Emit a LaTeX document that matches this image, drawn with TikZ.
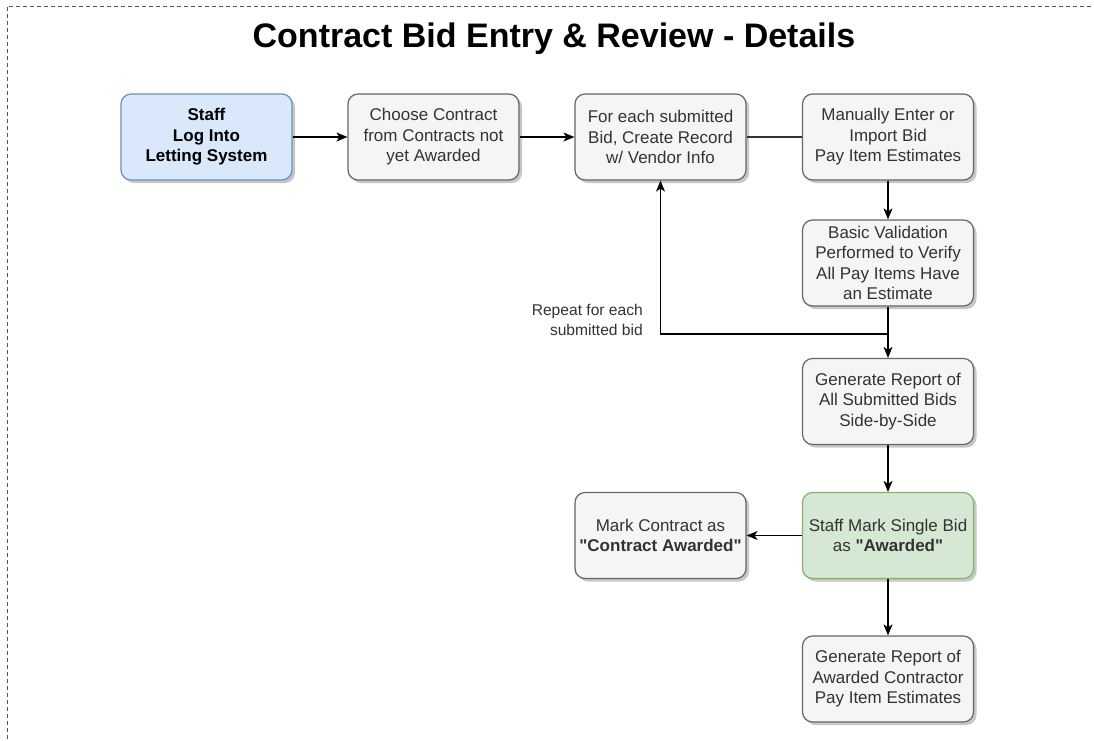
\documentclass[tikz,border=0pt]{standalone}
\usepackage{fontspec}
\setmainfont{Liberation Sans}
\newfontfamily\plainsans{Liberation Sans}
\usetikzlibrary{arrows.meta,shadows}
\definecolor{boxfill}{HTML}{F5F5F5}
\definecolor{boxdraw}{HTML}{666666}
\definecolor{boxtext}{HTML}{333333}
\definecolor{bluefill}{HTML}{DAE8FC}
\definecolor{bluedraw}{HTML}{6C8EBF}
\definecolor{greenfill}{HTML}{D5E8D4}
\definecolor{greendraw}{HTML}{82B366}
\definecolor{borderc}{HTML}{555555}
\tikzset{
  procbox/.style={draw=boxdraw, fill=boxfill, text=boxtext, line width=1.2pt,
    rounded corners=10pt, minimum width=171pt, minimum height=86pt,
    align=center, inner sep=2pt,
    font=\plainsans\fontsize{17}{20.5}\selectfont,
    drop shadow={shadow xshift=3pt, shadow yshift=-3pt, opacity=0.22, fill=black}},
  startbox/.style={procbox, draw=bluedraw, fill=bluefill, text=black},
  awardbox/.style={procbox, draw=greendraw, fill=greenfill},
  arr/.style={draw=black, line width=1.3pt, -{Stealth[length=11pt,width=9pt,inset=3pt]}},
  plainline/.style={draw=boxtext, line width=1.3pt},
  edgelabel/.style={font=\plainsans\fontsize{15.6}{19.3}\selectfont, text=boxtext, align=right, inner sep=2pt}
}
\begin{document}
\begin{tikzpicture}[x=1pt,y=-1pt]
\path[use as bounding box, fill=white] (0,0) rectangle (1094,740);
\clip (0,0) rectangle (1094,740);
\draw[borderc, line width=1pt, dash pattern=on 4pt off 3pt] (7,760) -- (7,6) -- (1110,6);

\node[anchor=base, font=\plainsans\fontsize{34}{40}\selectfont\bfseries] (title) at (554,47) {Contract Bid Entry \& Review - Details};

\node[startbox] (staff) at (206.5,137) {\textbf{Staff}\\\textbf{Log Into}\\\textbf{Letting System}};
\node[procbox] (choose) at (433.5,137) {Choose Contract\\from Contracts not\\yet Awarded};
\node[procbox] (foreach) at (660.5,137) {For each submitted\\Bid, Create Record\\w/ Vendor Info};
\node[procbox] (manual) at (888,137) {Manually Enter or\\Import Bid\\Pay Item Estimates};
\node[procbox] (basic) at (888,263) {Basic Validation\\Performed to Verify\\All Pay Items Have\\an Estimate};
\node[procbox] (genall) at (888,401.5) {Generate Report of\\All Submitted Bids\\Side-by-Side};
\node[awardbox] (award) at (888,535.5) {Staff Mark Single Bid\\as \textbf{"Awarded"}};
\node[procbox] (mark) at (660.5,535.5) {Mark Contract as\\\textbf{"Contract Awarded"}};
\node[procbox] (genaw) at (888,679) {Generate Report of\\Awarded Contractor\\Pay Item Estimates};

\draw[arr] (staff) -- (choose);
\draw[arr] (choose) -- (foreach);
\draw[plainline] (foreach) -- (manual);
\draw[arr] (manual) -- (basic);
\draw[arr] (basic) -- (genall);
\coordinate (branch) at (888,334);
\draw[arr] (branch) -| (foreach.south);
\node[edgelabel, anchor=east] (replabel) at (645,320) {Repeat for each\\submitted bid};
\draw[arr] (genall) -- (award);
\draw[arr] (award) -- (mark);
\draw[arr] (award) -- (genaw);
\end{tikzpicture}
\end{document}
